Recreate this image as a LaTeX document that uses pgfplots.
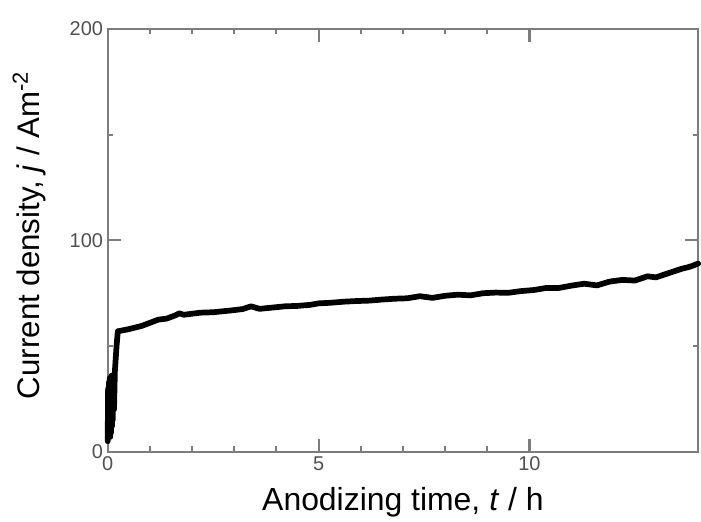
\documentclass[border=0pt]{standalone}
\usepackage{pgfplots}
\pgfplotsset{compat=1.18}
\usepackage{fontspec}
\setmainfont{Liberation Sans}
\definecolor{axgray}{RGB}{125,125,125}
\definecolor{lblgray}{RGB}{80,80,80}
\begin{document}
\begin{tikzpicture}
\begin{axis}[
  scale only axis,
  width=444pt, height=318pt,
  xmin=0, xmax=14, ymin=0, ymax=200,
  xtick={0,5,10}, ytick={0,100,200},
  minor x tick num=4, minor y tick num=1,
  tick align=inside,
  major tick length=10pt, minor tick length=4pt,
  axis line style={axgray, line width=1.6pt},
  every tick/.style={axgray, line width=1.6pt},
  /pgf/number format/assume math mode=true,
  xticklabel style={font=\fontsize{15}{17}\selectfont, text=lblgray},
  yticklabel style={font=\fontsize{15}{17}\selectfont, text=lblgray},
  xlabel style={at={(axis description cs:0.5,-0.139)}, anchor=base, font=\fontsize{24}{28}\selectfont},
  ylabel style={at={(axis description cs:-0.115,0.512)}, anchor=base, font=\fontsize{23.5}{28}\selectfont},
  xlabel={Anodizing time, \textit{t} / h},
  ylabel={Current density, \textit{j} / Am\textsuperscript{-2}},
  clip=false,
]
\addplot[black, line width=4.3pt, line join=round, line cap=round] coordinates {
(0,5) (0.01,30) (0.02,8) (0.03,33) (0.04,10) (0.05,35) (0.06,7) (0.07,34)
(0.08,9) (0.09,36) (0.10,12) (0.11,35) (0.12,15) (0.13,36) (0.15,20)
(0.17,38) (0.21,50) (0.24,57) (0.5,58) (0.8,59.5) (1.0,61) (1.2,62.5)
(1.4,63) (1.6,64.5) (1.7,65.5) (1.8,64.8) (2.0,65.3) (2.2,65.8) (2.5,66)
(2.9,66.8) (3.2,67.5) (3.4,68.8) (3.6,67.6) (3.9,68.2) (4.2,68.8) (4.5,69)
(4.8,69.5) (5.0,70.2) (5.3,70.5) (5.6,71) (5.9,71.3) (6.2,71.5) (6.5,72)
(6.8,72.4) (7.1,72.6) (7.4,73.6) (7.7,72.8) (8.0,73.8) (8.3,74.3) (8.6,74)
(8.9,75) (9.2,75.3) (9.5,75.2) (9.8,76) (10.1,76.5) (10.4,77.5) (10.7,77.5)
(11.0,78.6) (11.3,79.5) (11.6,78.7) (11.9,80.5) (12.2,81.3) (12.5,81)
(12.8,83) (13.0,82.5) (13.3,84.5) (13.6,86.5) (13.8,87.5) (14.0,89)
};
\path (rel axis cs:-0.1824,-0.1627) rectangle (rel axis cs:1.0017,1.0684);
\end{axis}
\end{tikzpicture}
\end{document}
